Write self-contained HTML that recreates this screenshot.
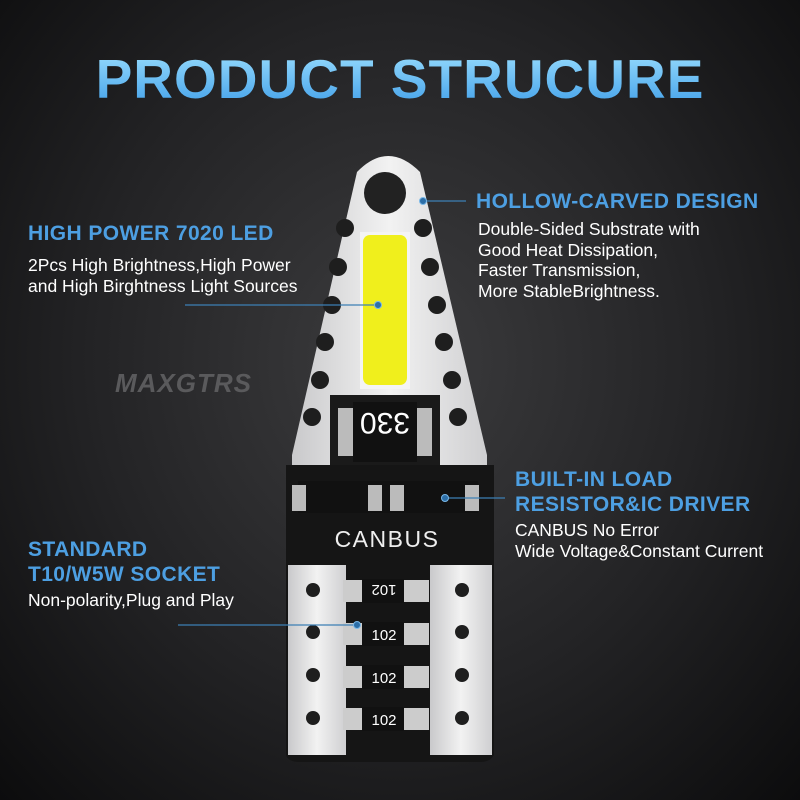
<!DOCTYPE html>
<html><head><style>
body{margin:0;width:800px;height:800px;overflow:hidden;background:radial-gradient(ellipse at 50% 45%,#3c3c3e 0%,#232325 55%,#0c0c0d 100%);font-family:"Liberation Sans",sans-serif;position:relative}
.t{position:absolute;color:#fff;font-size:17.5px;line-height:20.5px}
.h{position:absolute;color:#4d9fe2;font-weight:bold;font-size:20px;line-height:25px;letter-spacing:0.4px}
h1{position:absolute;top:47px;left:0;width:800px;text-align:center;margin:0;font-size:55px;font-weight:900;letter-spacing:1px;color:#5ab7f0;background:linear-gradient(#9ee0ff,#3d9de8);-webkit-background-clip:text;background-clip:text;-webkit-text-fill-color:transparent}
</style></head><body>
<h1>PRODUCT STRUCURE</h1>
<div style="position:absolute;left:115px;top:368px;font-size:26px;font-weight:bold;font-style:italic;color:#5a5a5c;letter-spacing:1px">MAXGTRS</div>
<svg width="800" height="800" style="position:absolute;left:0;top:0">
<defs><linearGradient id="s" x1="0" x2="1"><stop offset="0" stop-color="#c9c9cb"/><stop offset=".5" stop-color="#f2f2f2"/><stop offset="1" stop-color="#cfcfd1"/></linearGradient></defs>
<path d="M357 172 Q388 140 420 172 L487 455 L487 470 L292 470 L292 455 Z" fill="url(#s)"/>
<circle cx="385" cy="193" r="21" fill="#222"/>
<g fill="#1e1e1e">
<circle cx="345" cy="228" r="9"/><circle cx="338" cy="267" r="9"/><circle cx="332" cy="305" r="9"/><circle cx="325" cy="342" r="9"/><circle cx="320" cy="380" r="9"/><circle cx="312" cy="417" r="9"/>
<circle cx="423" cy="228" r="9"/><circle cx="430" cy="267" r="9"/><circle cx="437" cy="305" r="9"/><circle cx="444" cy="342" r="9"/><circle cx="452" cy="380" r="9"/><circle cx="458" cy="417" r="9"/>
</g>
<rect x="360" y="232" width="50" height="157" fill="#f4f4f4"/>
<rect x="363" y="235" width="44" height="150" rx="7" fill="#f0ef1c"/>
<rect x="330" y="395" width="110" height="75" fill="#1a1a1a"/>
<rect x="338" y="408" width="16" height="48" fill="#bbb"/><rect x="416" y="408" width="16" height="48" fill="#bbb"/>
<rect x="353" y="402" width="64" height="60" fill="#111"/>
<text x="385" y="433" fill="#fff" font-size="30" text-anchor="middle" transform="rotate(180 385 423)" font-family="Liberation Sans">330</text>
<path d="M286 465 L494 465 L494 755 Q490 762 480 762 L300 762 Q288 762 286 755 Z" fill="#151515"/>
<rect x="288" y="565" width="58" height="190" fill="url(#s)"/>
<rect x="430" y="565" width="62" height="190" fill="url(#s)"/>
<rect x="298" y="481" width="180" height="32" fill="#111"/>
<rect x="292" y="485" width="14" height="26" fill="#bbb"/><rect x="368" y="485" width="14" height="26" fill="#bbb"/><rect x="390" y="485" width="14" height="26" fill="#bbb"/><rect x="465" y="485" width="14" height="26" fill="#bbb"/>
<text x="387" y="547" fill="#eee" font-size="23" text-anchor="middle" letter-spacing="1.5">CANBUS</text>
<g fill="#1e1e1e"><circle cx="313" cy="590" r="7"/><circle cx="313" cy="632" r="7"/><circle cx="313" cy="675" r="7"/><circle cx="313" cy="718" r="7"/>
<circle cx="462" cy="590" r="7"/><circle cx="462" cy="632" r="7"/><circle cx="462" cy="675" r="7"/><circle cx="462" cy="718" r="7"/></g>
<g>
<g transform="translate(0,580)"><rect x="343" y="0" width="86" height="22" fill="#ccc"/><rect x="362" y="-1" width="42" height="24" fill="#111"/></g>
<g transform="translate(0,623)"><rect x="343" y="0" width="86" height="22" fill="#ccc"/><rect x="362" y="-1" width="42" height="24" fill="#111"/></g>
<g transform="translate(0,666)"><rect x="343" y="0" width="86" height="22" fill="#ccc"/><rect x="362" y="-1" width="42" height="24" fill="#111"/></g>
<g transform="translate(0,708)"><rect x="343" y="0" width="86" height="22" fill="#ccc"/><rect x="362" y="-1" width="42" height="24" fill="#111"/></g>
</g>
<text x="384" y="597" fill="#fff" font-size="15" text-anchor="middle" transform="rotate(180 384 591)">102</text>
<text x="384" y="640" fill="#fff" font-size="15" text-anchor="middle">102</text>
<text x="384" y="683" fill="#fff" font-size="15" text-anchor="middle">102</text>
<text x="384" y="725" fill="#fff" font-size="15" text-anchor="middle">102</text>
<g stroke="#3c7fb5" stroke-width="1.2"><line x1="423" y1="201" x2="466" y2="201"/><line x1="185" y1="305" x2="378" y2="305"/><line x1="445" y1="498" x2="505" y2="498"/><line x1="178" y1="625" x2="357" y2="625"/></g>
<g fill="#2d6fa8" stroke="#7ab8e8" stroke-width="1"><circle cx="423" cy="201" r="3.5"/><circle cx="378" cy="305" r="3.5"/><circle cx="445" cy="498" r="3.5"/><circle cx="357" cy="625" r="3.5"/></g>
</svg>
<div class="h" style="left:476px;top:189px;font-size:21px">HOLLOW-CARVED DESIGN</div>
<div class="t" style="left:478px;top:219px">Double-Sided Substrate with<br>Good Heat Dissipation,<br>Faster Transmission,<br>More StableBrightness.</div>
<div class="h" style="left:28px;top:221px;font-size:21px">HIGH POWER 7020 LED</div>
<div class="t" style="left:28px;top:255px">2Pcs High Brightness,High Power<br>and High Birghtness Light Sources</div>
<div class="h" style="left:515px;top:467px;font-size:21px">BUILT-IN LOAD<br>RESISTOR&amp;IC DRIVER</div>
<div class="t" style="left:515px;top:520px">CANBUS No Error<br>Wide Voltage&amp;Constant Current</div>
<div class="h" style="left:28px;top:537px;font-size:21px">STANDARD<br>T10/W5W SOCKET</div>
<div class="t" style="left:28px;top:590px">Non-polarity,Plug and Play</div>
</body></html>
